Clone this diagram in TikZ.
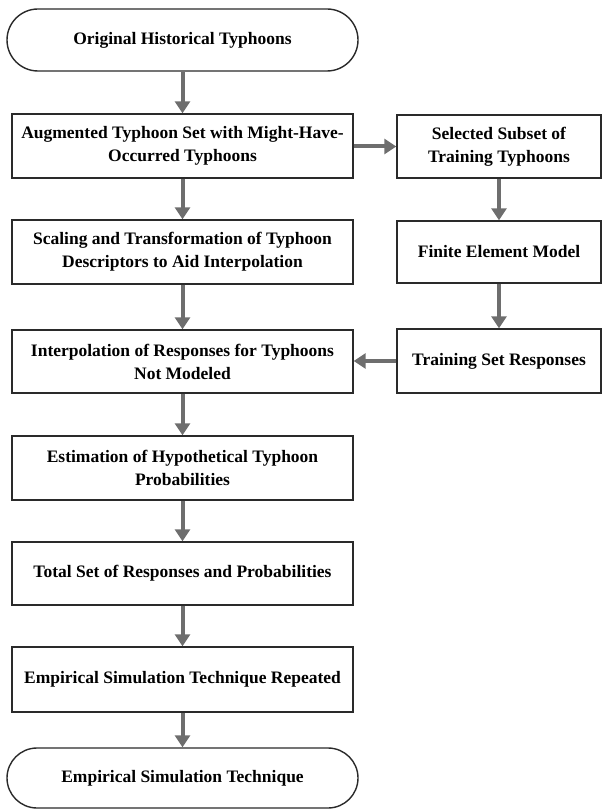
\documentclass[tikz,border=0pt]{standalone}
\usepackage{fontspec}
\setmainfont{Liberation Serif}
\usetikzlibrary{arrows.meta}
\definecolor{arrowgray}{HTML}{6E6E6E}
\definecolor{edgecol}{HTML}{2A2A2A}
\begin{document}
\begin{tikzpicture}[x=1pt,y=-1pt,
  box/.style={draw=edgecol,line width=1.4pt,fill=white,rectangle,inner sep=0pt,
    minimum width=341pt,minimum height=64pt,align=center,
    font=\fontsize{17.5}{23}\selectfont\bfseries},
  rbox/.style={box,minimum width=204pt},
  term/.style={box,minimum width=351pt,minimum height=62pt,rounded corners=31pt},
  flow/.style={draw=arrowgray,line width=4pt,-{Triangle[length=12pt,width=15pt]}}]
\useasboundingbox (0,0) rectangle (604,810);
\node[term] (orig) at (182.5,40) {Original Historical Typhoons};
\node[box] (aug) at (182.5,146) {Augmented Typhoon Set with Might-Have-\\Occurred Typhoons};
\node[box] (scale) at (182.5,252) {Scaling and Transformation of Typhoon\\Descriptors to Aid Interpolation};
\node[box,minimum height=63pt] (interp) at (182.5,361.5) {Interpolation of Responses for Typhoons\\Not Modeled};
\node[box] (est) at (182.5,468) {Estimation of Hypothetical Typhoon\\Probabilities};
\node[box,minimum height=63pt] (total) at (182.5,573.5) {Total Set of Responses and Probabilities};
\node[box,minimum height=65pt] (emprep) at (182.5,679.5) {Empirical Simulation Technique Repeated};
\node[term,minimum height=60pt,rounded corners=30pt] (emp) at (182.5,778) {Empirical Simulation Technique};
\node[rbox,minimum height=63pt] (sel) at (499,146.5) {Selected Subset of\\Training Typhoons};
\node[rbox,minimum height=62pt] (fem) at (499,252) {Finite Element Model};
\node[rbox] (train) at (499,361) {Training Set Responses};
\draw[flow] (orig) -- (aug);
\draw[flow] (aug) -- (scale);
\draw[flow] (scale) -- (interp);
\draw[flow] (interp) -- (est);
\draw[flow] (est) -- (total);
\draw[flow] (total) -- (emprep);
\draw[flow] (emprep) -- (emp);
\draw[flow] (aug.east |- sel.west) -- (sel.west);
\draw[flow] (sel) -- (fem);
\draw[flow] (fem) -- (train);
\draw[flow] (train.west) -- (interp.east |- train.west);
\end{tikzpicture}
\end{document}
